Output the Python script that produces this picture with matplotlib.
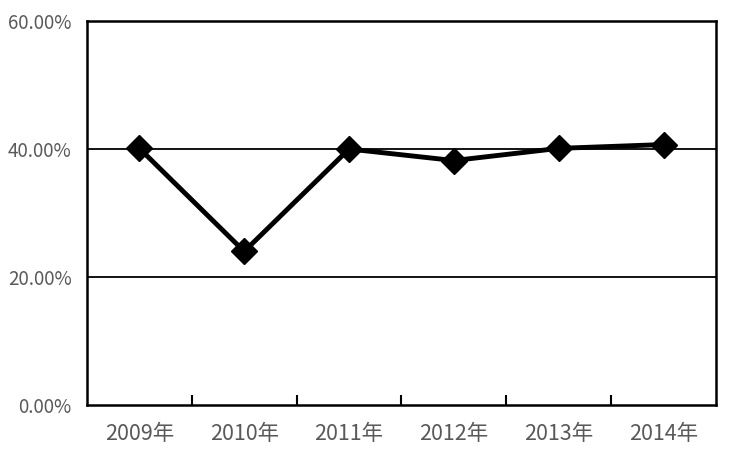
import matplotlib
matplotlib.use('Agg')
import matplotlib.pyplot as plt
from matplotlib.ticker import FuncFormatter

plt.rcParams['font.family'] = ['Noto Sans CJK SC', 'DejaVu Sans']
plt.rcParams['font.weight'] = 'light'

years = ['2009年', '2010年', '2011年', '2012年', '2013年', '2014年']
rates = [40.1, 24.0, 40.0, 38.2, 40.1, 40.7]

fig = plt.figure(figsize=(7.37, 4.62), dpi=100)
ax = fig.add_axes([0.118, 0.1234, 0.8535, 0.8311])

x = list(range(len(years)))
ax.plot(x, rates, color='black', lw=3.5, marker='D', ms=13, zorder=3)

ax.set_xlim(-0.5, len(years) - 0.5)
ax.set_ylim(0, 60)
ax.set_yticks([0, 20, 40, 60])
ax.yaxis.set_major_formatter(FuncFormatter(lambda v, p: '%.2f%%' % v))
for v in [20, 40]:
    ax.axhline(v, color='black', lw=1.3, zorder=1)

# category labels in the middle, ticks on the boundaries
ax.set_xticks([i + 0.5 for i in range(len(years) - 1)])
ax.set_xticklabels([])
ax.tick_params(axis='x', direction='in', length=7, width=1.5, color='black')
ax.set_xticks(x, minor=True)
ax.set_xticklabels(years, minor=True)
ax.tick_params(axis='x', which='minor', length=0, pad=13, labelsize=15.5, labelcolor='#595959')
ax.tick_params(axis='y', length=0, pad=11, labelsize=13.5, labelcolor='#595959')

for s in ax.spines.values():
    s.set_linewidth(1.8)
    s.set_color('black')

fig.savefig('out.png', dpi=100)
